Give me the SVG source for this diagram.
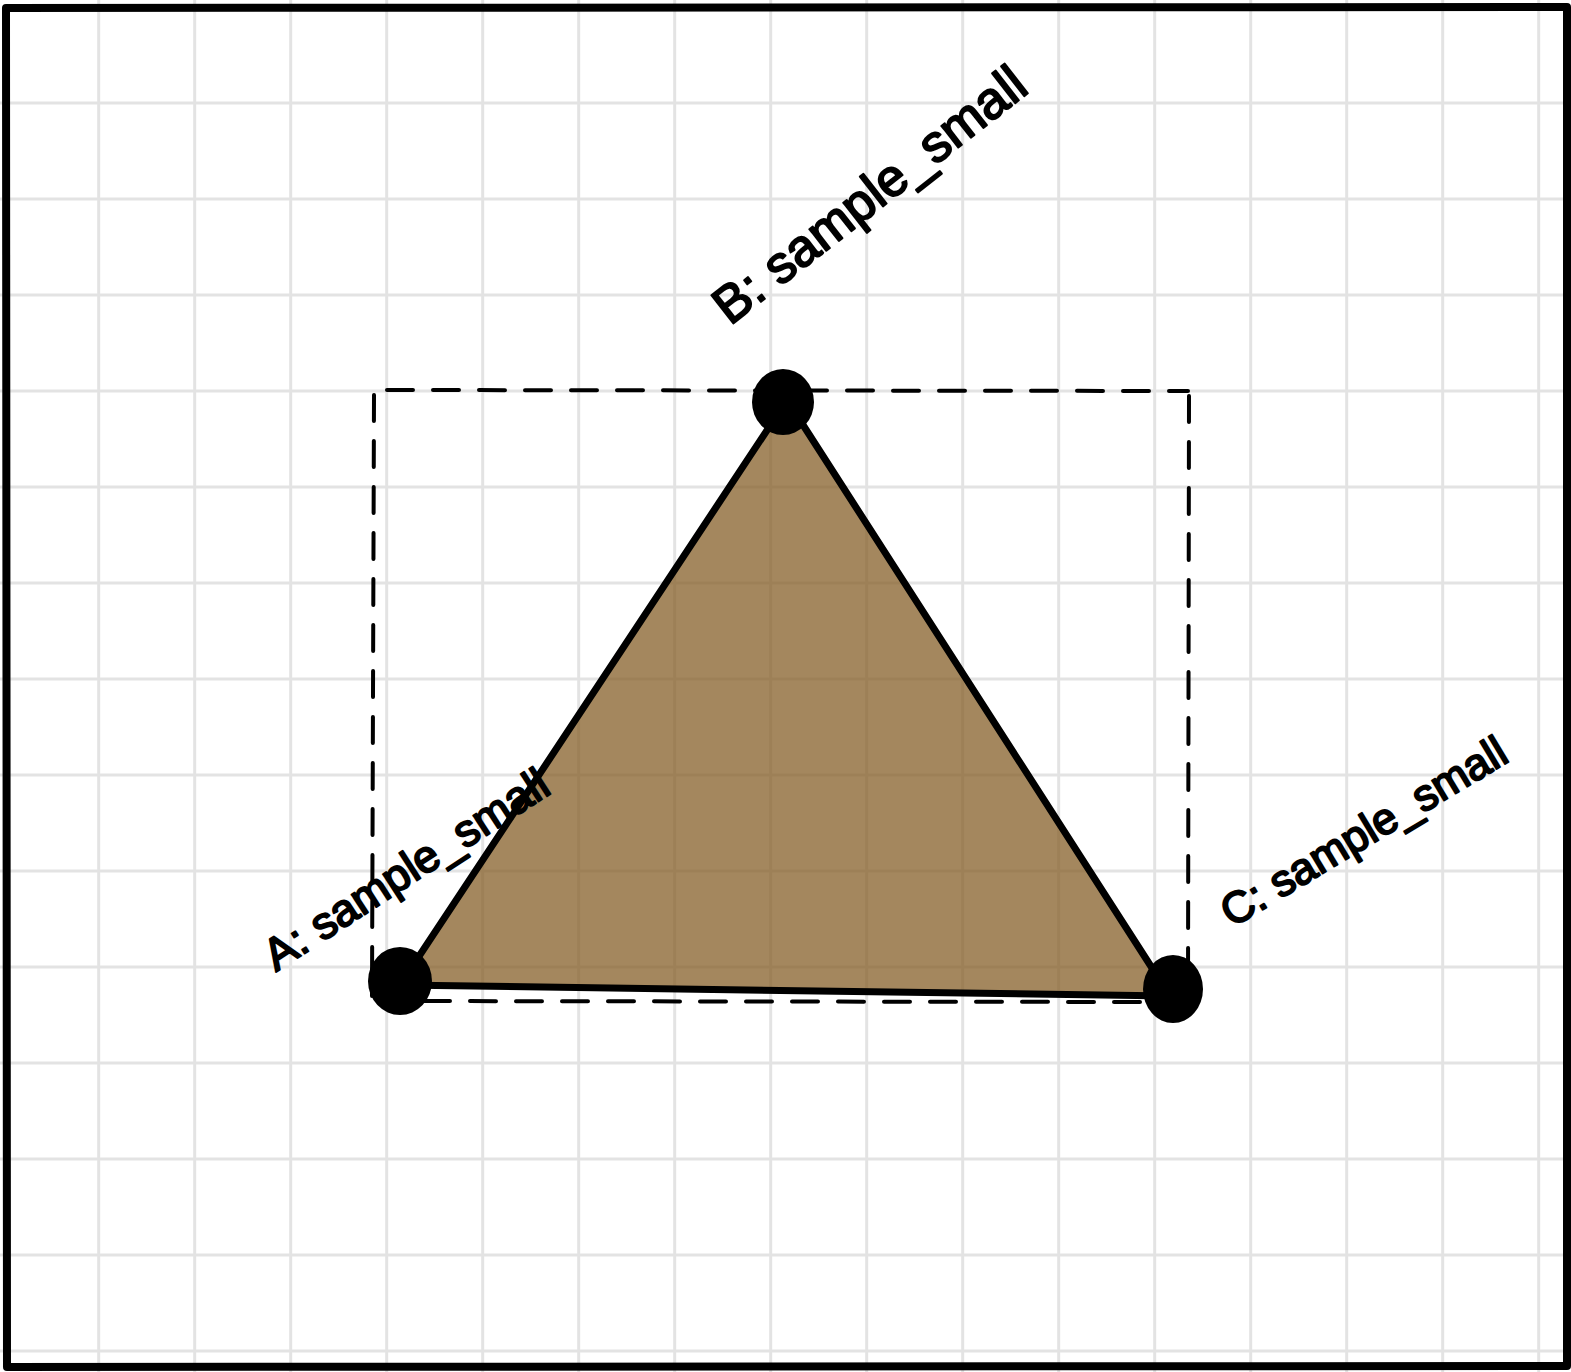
<svg xmlns="http://www.w3.org/2000/svg" width="1571" height="1372" viewBox="0 0 1571 1372">
<defs>
<style>
.grid line{stroke:#e3e3e3;stroke-width:3}
.border{fill:none;stroke:#000;stroke-width:8;stroke-linejoin:round}
.dash{fill:none;stroke:#000;stroke-width:4;stroke-dasharray:26 20;stroke-linecap:round}
.tri{fill:#855f28;fill-opacity:0.75;stroke:#000;stroke-width:7;stroke-linejoin:round}
.dot{fill:#000}
.lbl{font-family:"Liberation Sans",Arial,sans-serif;fill:#000;stroke:#000;stroke-width:2;stroke-linejoin:round}
</style>
</defs>
<rect width="1571" height="1372" fill="#fff"/>
<g class="grid" id="grid">
<line x1="98.7" y1="0" x2="98.7" y2="1372"/>
<line x1="194.7" y1="0" x2="194.7" y2="1372"/>
<line x1="290.7" y1="0" x2="290.7" y2="1372"/>
<line x1="386.7" y1="0" x2="386.7" y2="1372"/>
<line x1="482.7" y1="0" x2="482.7" y2="1372"/>
<line x1="578.7" y1="0" x2="578.7" y2="1372"/>
<line x1="674.7" y1="0" x2="674.7" y2="1372"/>
<line x1="770.7" y1="0" x2="770.7" y2="1372"/>
<line x1="866.7" y1="0" x2="866.7" y2="1372"/>
<line x1="962.7" y1="0" x2="962.7" y2="1372"/>
<line x1="1058.7" y1="0" x2="1058.7" y2="1372"/>
<line x1="1154.7" y1="0" x2="1154.7" y2="1372"/>
<line x1="1250.7" y1="0" x2="1250.7" y2="1372"/>
<line x1="1346.7" y1="0" x2="1346.7" y2="1372"/>
<line x1="1442.7" y1="0" x2="1442.7" y2="1372"/>
<line x1="1538.7" y1="0" x2="1538.7" y2="1372"/>
<line x1="0" y1="103" x2="1571" y2="103"/>
<line x1="0" y1="199" x2="1571" y2="199"/>
<line x1="0" y1="295" x2="1571" y2="295"/>
<line x1="0" y1="391" x2="1571" y2="391"/>
<line x1="0" y1="487" x2="1571" y2="487"/>
<line x1="0" y1="583" x2="1571" y2="583"/>
<line x1="0" y1="679" x2="1571" y2="679"/>
<line x1="0" y1="775" x2="1571" y2="775"/>
<line x1="0" y1="871" x2="1571" y2="871"/>
<line x1="0" y1="967" x2="1571" y2="967"/>
<line x1="0" y1="1063" x2="1571" y2="1063"/>
<line x1="0" y1="1159" x2="1571" y2="1159"/>
<line x1="0" y1="1255" x2="1571" y2="1255"/>
<line x1="0" y1="1351" x2="1571" y2="1351"/>
</g>
<path class="border" d="M6,8 L1567,7 L1567,1366 L7,1367 Z"/>
<g id="bbox">
<path class="dash" d="M387,390 L1188,391"/>
<path class="dash" d="M1189,396 L1188,995"/>
<path class="dash" d="M374,395 L372,996"/>
<path class="dash" d="M378,1001 L1150,1002"/>
</g>
<g id="triangle">
<polygon class="tri" points="400,985 787,400 1170,996"/>
</g>
<g id="node-A">
<ellipse class="dot" cx="400" cy="981" rx="32" ry="34"/>
<text class="lbl" transform="translate(276,972) rotate(-33)" font-size="45">A: sample_small</text>
</g>
<g id="node-B">
<ellipse class="dot" cx="783" cy="402" rx="31" ry="33"/>
<text class="lbl" transform="translate(730,326) rotate(-38)" font-size="52">B: sample_small</text>
</g>
<g id="node-C">
<ellipse class="dot" cx="1173" cy="989" rx="30" ry="34"/>
<text class="lbl" transform="translate(1232,928) rotate(-31)" font-size="44">C: sample_small</text>
</g>
</svg>
